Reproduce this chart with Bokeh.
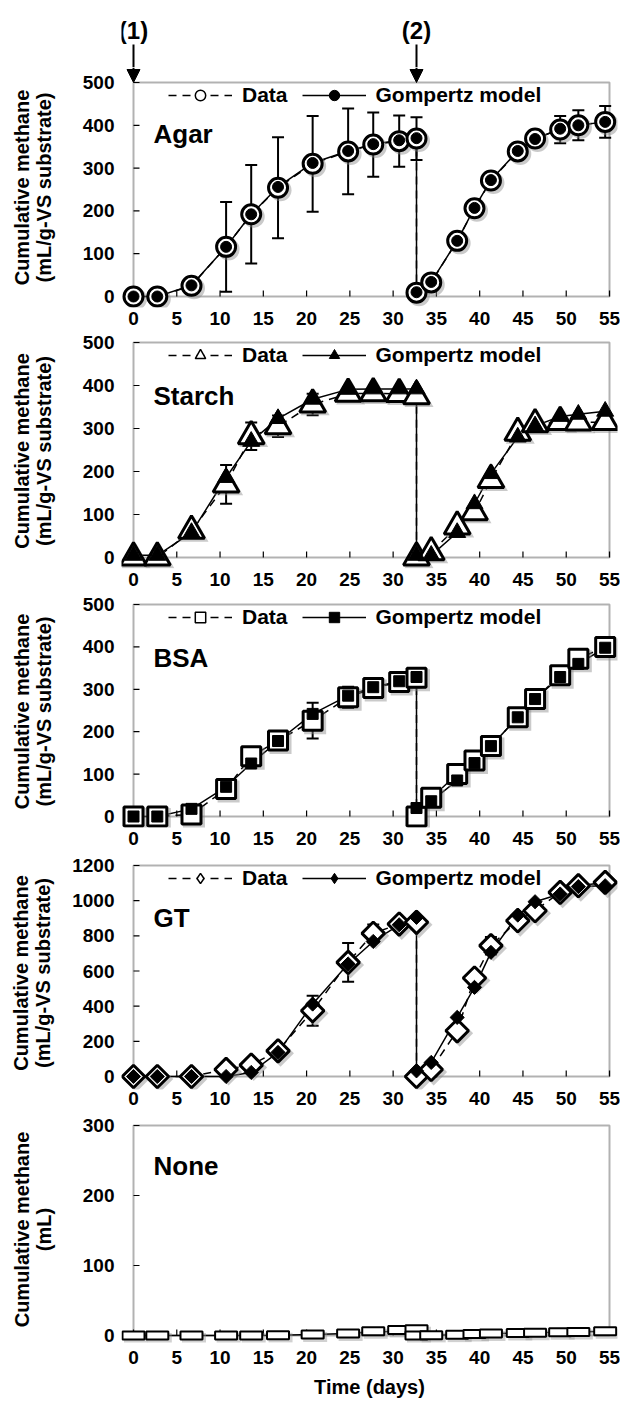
import math
from bokeh.plotting import figure
from bokeh.layouts import column
from bokeh.models import (ColumnDataSource, Range1d, FixedTicker, Whisker, TeeHead,
                          BoxAnnotation, Legend, LegendItem, Label, Arrow, NormalHead)
from bokeh.transform import dodge
from bokeh.embed import file_html
from bokeh.resources import INLINE

# ---------------- data ----------------
days_run1 = [0, 2.75, 6.7, 10.7, 13.6, 16.7, 20.7, 24.8, 27.7, 30.7, 32.7]
days_run2 = [32.7, 34.4, 37.4, 39.4, 41.3, 44.4, 46.4, 49.3, 51.4, 54.5]
x_ticks = [0, 5, 10, 15, 20, 25, 30, 35, 40, 45, 50, 55]

agar_data_run1 = [0, 0, 25, 116, 192, 254, 310, 339, 355, 363, 369]
agar_data_run2 = [9, 33, 130, 206, 271, 339, 369, 390, 400, 408]
agar_model_run1 = [0, 0, 26, 116, 192, 256, 312, 340, 356, 365, 370]
agar_model_run2 = [10, 34, 130, 207, 272, 340, 368, 392, 400, 408]
agar_err_run1 = [0, 0, 12, 105, 115, 118, 112, 100, 75, 60, 50]
agar_err_run2 = [0, 0, 0, 0, 0, 0, 0, 32, 35, 37]

starch_data_run1 = [0, 0, 62, 170, 282, 305, 356, 381, 382, 380, 375]
starch_data_run2 = [0, 12, 72, 105, 180, 290, 310, 315, 314, 315]
starch_model_run1 = [5, 5, 58, 186, 270, 323, 368, 391, 392, 392, 392]
starch_model_run2 = [5, 5, 58, 125, 195, 280, 306, 328, 333, 340]
starch_err_run1 = [0, 0, 0, 45, 32, 25, 25, 15, 10, 10, 10]
starch_err_run2 = [0, 0, 0, 8, 8, 0, 0, 8, 8, 10]

bsa_data_run1 = [0, 0, 5, 65, 142, 179, 226, 281, 303, 317, 327]
bsa_data_run2 = [0, 44, 100, 132, 166, 234, 277, 333, 372, 400]
bsa_model_run1 = [0, 0, 18, 70, 125, 178, 242, 285, 305, 319, 329]
bsa_model_run2 = [20, 36, 85, 126, 166, 234, 277, 329, 360, 398]
bsa_err_run1 = [0, 0, 0, 0, 8, 8, 42, 25, 22, 22, 22]
bsa_err_run2 = [0, 0, 0, 0, 0, 0, 0, 0, 0, 0]

gt_data_run1 = [0, 0, 0, 40, 65, 146, 374, 649, 814, 867, 877]
gt_data_run2 = [0, 40, 260, 560, 744, 886, 943, 1047, 1085, 1104]
gt_model_run1 = [0, 0, 0, 0, 23, 137, 412, 640, 768, 863, 905]
gt_model_run2 = [32, 80, 336, 507, 706, 918, 994, 1038, 1080, 1085]
gt_err_run1 = [0, 0, 0, 0, 0, 0, 85, 110, 50, 0, 0]
gt_err_run2 = [0, 40, 0, 0, 50, 0, 0, 0, 0, 0]

none_data_run1 = [0, 0, 0, 0, 0, 0.5, 1.5, 3, 6, 8, 9]
none_data_run2 = [0, 0.5, 1, 2, 3, 3.5, 4, 4.5, 5, 6]
none_model_run1 = [0, 0, 0, 0, 0, 0.5, 1.5, 3, 5, 6, 7]
none_model_run2 = [0, 0.5, 1, 2, 3, 3.5, 4, 4.5, 5, 6]
none_err_run1 = [0] * 11
none_err_run2 = [0] * 10

y_ticks_500 = [0, 100, 200, 300, 400, 500]
y_ticks_1200 = [0, 200, 400, 600, 800, 1000, 1200]
y_ticks_300 = [0, 100, 200, 300]

ylabel_vs = "Cumulative methane\n(mL/g-VS substrate)"
ylabel_ml = "Cumulative methane\n(mL)"
legend_labels = ["Data", "Gompertz model"]
phase_labels = ["(1)", "(2)"]
xlabel = "Time (days)"

# ---------------- layout ----------------
FONT = "Liberation Sans"
XMAX = 55
BOX_W = 476
PAD_L, PAD_R = 12, 8
PAD_T_FIRST, PAD_T = 15, 9
LABEL_GAP = 15          # box bottom -> top of x tick label text
BORDER_L = 121
FRAME_W = BOX_W + PAD_L + PAD_R
FIG_W = BORDER_L + FRAME_W + 3
box_tops = [82, 342, 604, 865, 1125]
box_hs = [214, 215, 212, 211, 210]
PAGE_H = 1403
xpp = XMAX / BOX_W
X_RANGE = (-PAD_L * xpp, XMAX + PAD_R * xpp)

panels = [
    dict(name="Agar", d=agar_data_run1 + agar_data_run2, m=agar_model_run1 + agar_model_run2,
         e=agar_err_run1 + agar_err_run2, ymax=500, yt=y_ticks_500, marker="circle",
         so=19, sf=11, ang=0, leg="circle", ylabel=ylabel_vs, drop=51, ysd=25, pb=11),
    dict(name="Starch", d=starch_data_run1 + starch_data_run2, m=starch_model_run1 + starch_model_run2,
         e=starch_err_run1 + starch_err_run2, ymax=500, yt=y_ticks_500, marker="triangle",
         so=26, sf=17, ang=0, leg="triangle", ylabel=ylabel_vs, drop=53, ysd=25, pb=11),
    dict(name="BSA", d=bsa_data_run1 + bsa_data_run2, m=bsa_model_run1 + bsa_model_run2,
         e=bsa_err_run1 + bsa_err_run2, ymax=500, yt=y_ticks_500, marker="square",
         so=19, sf=11, ang=0, leg="square", ylabel=ylabel_vs, drop=53, ysd=25, pb=11),
    dict(name="GT", d=gt_data_run1 + gt_data_run2, m=gt_model_run1 + gt_model_run2,
         e=gt_err_run1 + gt_err_run2, ymax=1200, yt=y_ticks_1200, marker="square",
         so=16, sf=10, ang=math.pi / 4, leg="diamond", ylabel=ylabel_vs, drop=52, ysd=15, pb=13),
    dict(name="None", d=none_data_run1 + none_data_run2, m=none_model_run1 + none_model_run2,
         e=none_err_run1 + none_err_run2, ymax=300, yt=y_ticks_300, marker="rect",
         so=0, sf=0, ang=0, leg=None, ylabel=ylabel_ml, drop=40, ysd=25, pb=7),
]

days = days_run1 + days_run2
figs = []

def pad_top(i):
    return PAD_T_FIRST if i == 0 else PAD_T

# ----- header with the phase arrows -----
head_h = box_tops[0] - PAD_T_FIRST
hdr = figure(width=FIG_W, height=head_h, output_backend="svg", toolbar_location=None,
             title=None, x_axis_location=None, y_axis_location=None,
             x_range=Range1d(*X_RANGE), y_range=Range1d(0, head_h),
             min_border_left=BORDER_L, min_border_right=3, min_border_top=0, min_border_bottom=0)
hdr.outline_line_color = None
hdr.grid.visible = False
arrow_x = [days_run1[0], days_run2[0]]
hdr.segment(x0=arrow_x, y0=[head_h - 44] * 2, x1=arrow_x, y1=[0] * 2,
            line_color="black", line_width=2)
for xpos, lab in zip(arrow_x, phase_labels):
    hdr.add_layout(Label(x=xpos, y=head_h - 30, text=lab, text_font=FONT,
                         text_font_size="24px", text_font_style="bold", text_color="black",
                         text_align="center", text_baseline="middle"))
figs.append(hdr)

for i, P in enumerate(panels):
    bt, bh = box_tops[i], box_hs[i]
    pt = pad_top(i)
    pb = P["pb"]
    ft = bt - pt
    fb = box_tops[i + 1] - pad_top(i + 1) if i + 1 < len(box_tops) else PAGE_H
    frame_h = bh + pt + pb
    b_bot = fb - (ft + frame_h)
    ymax = P["ymax"]
    ypp = ymax / bh
    p = figure(width=FIG_W, height=fb - ft, output_backend="svg", toolbar_location=None,
               title=None,
               x_range=Range1d(*X_RANGE),
               y_range=Range1d(-pb * ypp, ymax + pt * ypp),
               min_border_left=BORDER_L, min_border_right=3,
               min_border_top=0, min_border_bottom=b_bot)
    p.outline_line_color = None
    p.grid.visible = False
    p.background_fill_color = "white"
    p.border_fill_color = "white"

    xa, ya = p.xaxis[0], p.yaxis[0]
    xa.ticker = FixedTicker(ticks=x_ticks)
    ya.ticker = FixedTicker(ticks=P["yt"])
    for ax in (xa, ya):
        ax.major_tick_in = 0
        ax.major_tick_out = 0
        ax.minor_tick_in = 0
        ax.minor_tick_out = 0
        ax.axis_line_color = None
        ax.major_label_text_font = FONT
        ax.major_label_text_font_size = "19px"
        ax.major_label_text_font_style = "bold"
        ax.major_label_text_color = "black"
    xa.major_label_standoff = LABEL_GAP - pb
    ya.major_label_standoff = 7
    ya.axis_label = P["ylabel"]
    ya.axis_label_text_font = FONT
    ya.axis_label_text_font_size = "20px"
    ya.axis_label_text_font_style = "bold"
    ya.axis_label_text_color = "black"
    ya.axis_label_text_line_height = 1.0
    ya.axis_label_standoff = P["ysd"]
    if i == len(panels) - 1:
        xa.axis_label = xlabel
        xa.axis_label_text_font = FONT
        xa.axis_label_text_font_size = "20px"
        xa.axis_label_text_font_style = "bold"
        xa.axis_label_text_color = "black"
        xa.axis_label_standoff = 9

    # plot box and inward ticks
    p.add_layout(BoxAnnotation(left=0, right=XMAX, bottom=0, top=ymax, fill_color=None,
                               line_color="black", line_width=2, level="underlay"))
    p.segment(x0=x_ticks, y0=[0] * len(x_ticks), x1=x_ticks, y1=[6 * ypp] * len(x_ticks),
              line_color="black", line_width=1.2)
    p.segment(x0=[0] * len(P["yt"]), y0=P["yt"], x1=[6 * xpp] * len(P["yt"]), y1=P["yt"],
              line_color="black", line_width=1.2)

    src = ColumnDataSource(dict(x=days, d=P["d"], m=P["m"]))
    ex = [x for x, e in zip(days, P["e"]) if e > 0]
    ed = [v for v, e in zip(P["d"], P["e"]) if e > 0]
    ee = [e for e in P["e"] if e > 0]
    if ex:
        esrc = ColumnDataSource(dict(x=ex, upper=[v + e for v, e in zip(ed, ee)],
                                     lower=[v - e for v, e in zip(ed, ee)]))
        p.add_layout(Whisker(source=esrc, base="x", upper="upper", lower="lower",
                             line_color="black", line_width=2,
                             upper_head=TeeHead(size=12, line_width=2, line_color="black"),
                             lower_head=TeeHead(size=12, line_width=2, line_color="black")))

    sdx = 2.5 * xpp
    sdy = -2.5 * ypp
    if P["marker"] == "rect":
        p.line("x", "m", source=src, line_color="black", line_width=1.5)
        p.rect(x=dodge("x", sdx, range=p.x_range), y=dodge("d", sdy, range=p.y_range),
               source=src, width=24, height=10, width_units="screen", height_units="screen",
               fill_color="#9a9a9a", fill_alpha=0.45, line_color=None)
        p.rect("x", "d", source=src, width=22, height=8, width_units="screen",
               height_units="screen", fill_color="white", line_color="black", line_width=2)
    else:
        leg_d = p.scatter("x", "d", source=src, marker=P["leg"], size=1, fill_color="white",
                          line_color="black", line_width=1.5)
        leg_m = p.scatter("x", "m", source=src, marker=P["leg"], size=1, fill_color="black",
                          line_color="black", line_width=1)
        dline = p.line("x", "d", source=src, line_color="black", line_width=1.5, line_dash="8 6")
        mline = p.line("x", "m", source=src, line_color="black", line_width=1.5)
        p.scatter(x=dodge("x", sdx, range=p.x_range), y=dodge("d", sdy, range=p.y_range),
                  source=src, marker=P["marker"], size=P["so"] + 3, angle=P["ang"],
                  fill_color="#8a8a8a", fill_alpha=0.45, line_color=None)
        p.scatter("x", "d", source=src, marker=P["marker"], size=P["so"], angle=P["ang"],
                  fill_color="white", line_color="black", line_width=3)
        p.scatter("x", "m", source=src, marker=P["marker"], size=P["sf"], angle=P["ang"],
                  fill_color="black", line_color="black", line_width=1)
        legend = Legend(items=[LegendItem(label=legend_labels[0], renderers=[dline, leg_d]),
                               LegendItem(label=legend_labels[1], renderers=[mline, leg_m])],
                        location=(47, frame_h - pt - 26), orientation="horizontal",
                        padding=0, margin=0, spacing=14, glyph_width=64, glyph_height=26,
                        label_height=26, label_standoff=10, border_line_color=None,
                        background_fill_alpha=0, label_text_font=FONT,
                        label_text_font_size="21px", label_text_font_style="bold",
                        label_text_color="black")
        p.add_layout(legend)

    p.add_layout(Label(x=20 * xpp, y=ymax - P["drop"] * ypp, text=P["name"],
                       text_font=FONT, text_font_size="26px", text_font_style="bold",
                       text_color="black", text_baseline="alphabetic"))

    if i == 0:
        for xpos in arrow_x:
            p.add_layout(Arrow(end=NormalHead(size=13, fill_color="black", line_color="black"),
                               x_start=xpos, y_start=ymax + pt * ypp, x_end=xpos, y_end=ymax,
                               line_color="black", line_width=2))
    figs.append(p)

layout = column(*figs, spacing=0)
open("out.html", "w").write(file_html(layout, INLINE))
